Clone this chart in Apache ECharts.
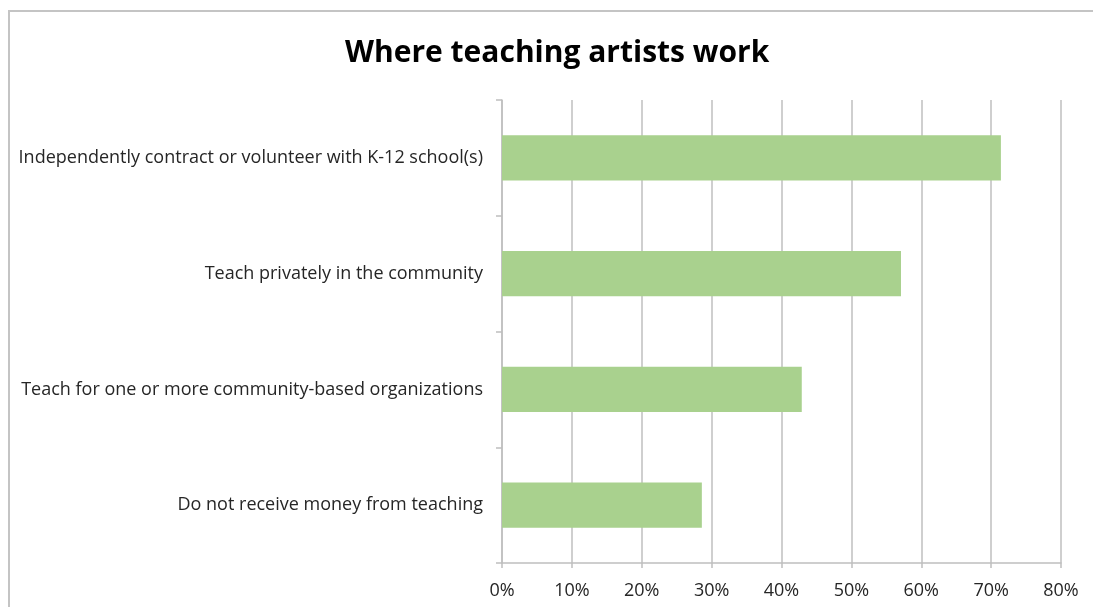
<!DOCTYPE html>
<html>
<head>
<meta charset="utf-8">
<script src="https://cdn.jsdelivr.net/npm/echarts@6/dist/echarts.min.js"></script>
<style>
  html, body { margin: 0; padding: 0; background: #fff; overflow: hidden; }
  #chart { width: 1093px; height: 607px; }
</style>
</head>
<body>
<div id="chart"></div>
<script>
// Where teaching artists work: share of respondents by work setting
const categories = [
  'Independently contract or volunteer with K-12 school(s)',
  'Teach privately in the community',
  'Teach for one or more community-based organizations',
  'Do not receive money from teaching'
];
const shares = [71.4, 57.1, 42.9, 28.6];
const titleText = 'Where teaching artists work';

const font = '"Open Sans", "Liberation Sans", sans-serif';
const chart = echarts.init(document.getElementById('chart'));
chart.setOption({
  animation: false,
  backgroundColor: '#ffffff',
  title: {
    text: titleText,
    left: 340,
    top: 33,
    textStyle: { fontFamily: font, fontSize: 30, fontWeight: 'bold', color: '#000' }
  },
  graphic: [{
    type: 'polyline',
    shape: { points: [[9, 700], [9, 11], [1200, 11]] },
    style: { fill: 'none', stroke: '#c4c4c4', lineWidth: 2 },
    silent: true
  }],
  grid: { left: 502, right: 32, top: 100, bottom: 44 },
  xAxis: {
    type: 'value',
    min: 0, max: 80, interval: 10,
    axisLine: { show: true, lineStyle: { color: '#bfbfbf', width: 1.5 } },
    axisTick: { show: true, length: 5, lineStyle: { color: '#bfbfbf', width: 1.5 } },
    splitLine: { show: true, lineStyle: { color: '#bfbfbf', width: 1.5 } },
    axisLabel: {
      formatter: '{value}%', margin: 19,
      fontFamily: font, fontSize: 18, color: '#262626'
    }
  },
  yAxis: {
    type: 'category',
    data: categories,
    inverse: true,
    axisLine: { show: true, lineStyle: { color: '#bfbfbf', width: 1.5 } },
    axisTick: { show: true, length: 6, lineStyle: { color: '#bfbfbf', width: 1.5 } },
    axisLabel: { margin: 19, padding: [4, 0, 0, 0], fontFamily: font, fontSize: 18, color: '#262626' }
  },
  series: [{
    type: 'bar',
    data: shares,
    barWidth: '39%',
    itemStyle: { color: '#a9d18e' }
  }]
});
</script>
</body>
</html>
